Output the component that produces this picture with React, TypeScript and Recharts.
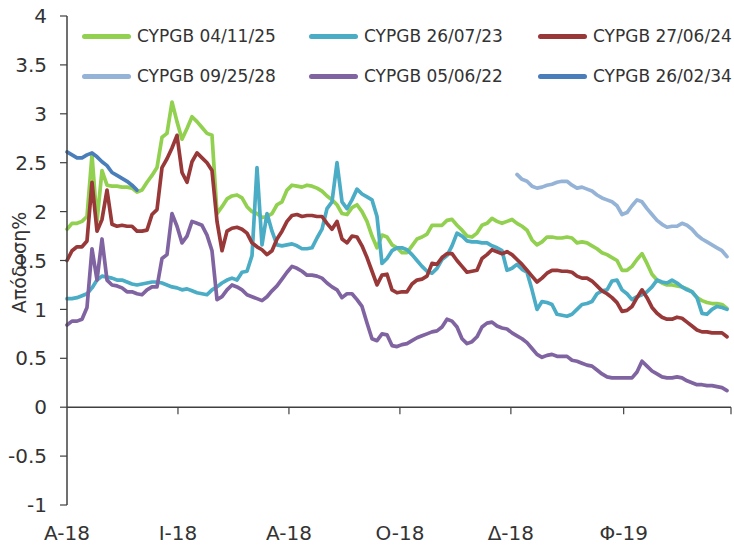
import React from 'react';
import { LineChart, Line, XAxis, YAxis, ReferenceLine, Legend, Label } from 'recharts';

const FONT = '"DejaVu Sans", Verdana, sans-serif';
const STEP_DAYS = (365 * 5) / 664; // one sample every ~2.75 days (Apr-18 .. Apr-19)
const N_SAMPLES = 133;

const xTickDays = [0, 61, 122, 183, 244, 306, 365];
const xTickLabels = ['A-18', 'I-18', 'A-18', 'O-18', 'Δ-18', 'Φ-19', ''];
const yTicks = [-1, -0.5, 0, 0.5, 1, 1.5, 2, 2.5, 3, 3.5, 4];

const seriesNames = ['CYPGB 04/11/25', 'CYPGB 26/07/23', 'CYPGB 27/06/24', 'CYPGB 09/25/28', 'CYPGB 05/06/22', 'CYPGB 26/02/34'];
const seriesColors = ['#92D050', '#4BACC6', '#993838', '#95B3D7', '#8064A2', '#4A7EBB'];
const seriesStart = [0, 0, 0, 90, 0, 0];

const bond041125 = [
  1.82, 1.88, 1.88, 1.9, 1.95, 2.58, 1.9, 2.42, 2.27, 2.26,
  2.26, 2.25, 2.25, 2.24, 2.2, 2.22, 2.3, 2.37, 2.45, 2.76,
  2.8, 3.12, 2.92, 2.74, 2.85, 2.97, 2.92, 2.86, 2.8, 2.78,
  1.98, 2.05, 2.13, 2.16,
  2.17, 2.14, 2.05, 2.0, 1.98, 1.94, 1.95, 1.98, 2.07, 2.1,
  2.22, 2.27, 2.26, 2.25, 2.27, 2.26, 2.24, 2.21, 2.16, 2.12,
  2.07, 1.98, 1.97, 2.04, 2.07, 2.0, 1.9, 1.75, 1.63, 1.76,
  1.74, 1.66, 1.63,
  1.58, 1.58, 1.65, 1.72, 1.74, 1.77, 1.86, 1.86, 1.86, 1.91,
  1.92, 1.86, 1.81, 1.75, 1.74, 1.78, 1.86, 1.88, 1.93, 1.9,
  1.88, 1.9, 1.92, 1.88, 1.85, 1.81, 1.71, 1.66, 1.69, 1.74,
  1.74, 1.73, 1.73,
  1.74, 1.73, 1.68, 1.69, 1.68, 1.65, 1.62, 1.58, 1.56, 1.53,
  1.5, 1.4, 1.4, 1.44, 1.51, 1.57, 1.47, 1.36, 1.3, 1.27,
  1.25, 1.25, 1.24, 1.23, 1.21, 1.18, 1.12, 1.09, 1.07, 1.06,
  1.06, 1.05, 1.01,
];

const bond260723 = [
  1.11, 1.11, 1.12, 1.14, 1.16, 1.22, 1.3, 1.34, 1.33, 1.32,
  1.3, 1.3, 1.28, 1.26, 1.25, 1.26, 1.27, 1.28, 1.28, 1.27,
  1.25, 1.23, 1.22, 1.2, 1.21, 1.19, 1.17, 1.16, 1.15, 1.2,
  1.23, 1.27, 1.3, 1.32,
  1.3, 1.38, 1.39, 1.55, 2.45, 1.66, 1.98, 1.8, 1.66, 1.65,
  1.66, 1.67, 1.65, 1.62, 1.62, 1.63, 1.73, 1.82, 2.03, 2.1,
  2.5, 2.1, 2.03, 2.12, 2.23, 2.18, 2.15, 2.12, 1.95, 1.47,
  1.52, 1.6, 1.63,
  1.63, 1.61, 1.56, 1.5, 1.44, 1.39, 1.37, 1.42, 1.51, 1.55,
  1.65, 1.78, 1.75, 1.7, 1.69, 1.69, 1.68, 1.68, 1.65, 1.63,
  1.6, 1.4, 1.42, 1.46, 1.41, 1.38, 1.2, 1.0, 1.08, 1.07,
  1.05, 0.95, 0.94,
  0.93, 0.95, 1.0, 1.05, 1.06, 1.08, 1.16, 1.19, 1.2, 1.29,
  1.3, 1.2, 1.16, 1.1, 1.13, 1.15, 1.18, 1.23, 1.3, 1.28,
  1.27, 1.3, 1.27, 1.23, 1.2, 1.18, 1.12, 0.96, 0.95, 1.0,
  1.03, 1.02, 1.0,
];

const bond270624 = [
  1.5, 1.6, 1.64, 1.64, 1.7, 2.3, 1.8, 1.92, 2.22, 1.87,
  1.85, 1.86, 1.85, 1.85, 1.8, 1.8, 1.81, 1.97, 2.02, 2.45,
  2.54, 2.65, 2.78, 2.4, 2.3, 2.51, 2.6, 2.55, 2.5, 2.42,
  1.9, 1.6, 1.8, 1.83,
  1.84, 1.82, 1.78, 1.68, 1.64, 1.61, 1.56, 1.6, 1.72, 1.8,
  1.9, 1.96, 1.97, 1.95, 1.96, 1.96, 1.95, 1.95, 1.88, 1.82,
  1.9, 1.72, 1.68, 1.75, 1.74, 1.65, 1.53, 1.39, 1.25, 1.35,
  1.36, 1.2, 1.17,
  1.18, 1.18, 1.26, 1.3, 1.31, 1.34, 1.47, 1.46, 1.53, 1.57,
  1.57, 1.5, 1.44, 1.38, 1.39, 1.4, 1.52, 1.56, 1.61, 1.59,
  1.57, 1.59, 1.56, 1.51, 1.46, 1.4, 1.34, 1.28, 1.32, 1.37,
  1.4, 1.4, 1.39,
  1.39, 1.38, 1.34, 1.32, 1.32, 1.29, 1.24, 1.19, 1.16, 1.12,
  1.07, 0.98, 0.99, 1.03, 1.12, 1.2, 1.12, 1.02, 0.96, 0.92,
  0.9, 0.9, 0.92, 0.91, 0.87, 0.83, 0.79, 0.77, 0.77, 0.76,
  0.76, 0.76, 0.72,
];

// starts at sample 90 (first quote in late Nov-18)
const bond092528 = [
  2.38, 2.33, 2.31, 2.26, 2.24, 2.25, 2.27, 2.28, 2.3, 2.31,
  2.31, 2.27, 2.24, 2.25, 2.23, 2.21, 2.17, 2.14, 2.12, 2.1,
  2.06, 1.97, 1.99, 2.06, 2.12, 2.1, 2.03, 1.97, 1.91, 1.87,
  1.84, 1.85, 1.85, 1.88, 1.86, 1.82, 1.76, 1.72, 1.69, 1.66,
  1.63, 1.6, 1.54,
];

const bond050622 = [
  0.84, 0.88, 0.88, 0.9, 1.02, 1.62, 1.3, 1.72, 1.3, 1.25,
  1.24, 1.22, 1.18, 1.18, 1.16, 1.15, 1.2, 1.23, 1.23, 1.52,
  1.56, 1.98, 1.85, 1.68, 1.75, 1.9, 1.88, 1.86, 1.76, 1.6,
  1.1, 1.13, 1.2, 1.25,
  1.23, 1.2, 1.15, 1.13, 1.11, 1.09, 1.13, 1.19, 1.24, 1.31,
  1.38, 1.44, 1.42, 1.39, 1.35, 1.35, 1.34, 1.32, 1.27, 1.23,
  1.2, 1.12, 1.16, 1.16, 1.1, 1.03, 0.86, 0.7, 0.68, 0.75,
  0.74, 0.63, 0.62,
  0.64, 0.65, 0.68, 0.71, 0.73, 0.75, 0.77, 0.78, 0.82, 0.9,
  0.88, 0.82, 0.7, 0.65, 0.67, 0.72, 0.82, 0.86, 0.87, 0.83,
  0.81, 0.8, 0.76, 0.73, 0.7, 0.66, 0.6, 0.54, 0.51, 0.53,
  0.54, 0.52, 0.52,
  0.52, 0.48, 0.47, 0.45, 0.43, 0.42, 0.38, 0.34, 0.31, 0.3,
  0.3, 0.3, 0.3, 0.3, 0.36, 0.47, 0.42, 0.37, 0.34, 0.31,
  0.3, 0.3, 0.31, 0.3, 0.27, 0.25, 0.23, 0.23, 0.22, 0.22,
  0.21, 0.2, 0.17,
];

// only quoted during the first weeks
const bond260234 = [
  2.61, 2.58, 2.55, 2.55, 2.58, 2.6, 2.56, 2.51, 2.47, 2.4,
  2.37, 2.34, 2.31, 2.27, 2.22,
];

const seriesValues = [bond041125, bond260723, bond270624, bond092528, bond050622, bond260234];
const seriesKeys = ['s041125', 's260723', 's270624', 's092528', 's050622', 's260234'];

const data = Array.from({ length: N_SAMPLES }, (_, k) => {
  const row: Record<string, number | null> = { day: k * STEP_DAYS };
  seriesKeys.forEach((key, s) => {
    const i = k - seriesStart[s];
    const vals = seriesValues[s];
    row[key] = i >= 0 && i < vals.length ? vals[i] : null;
  });
  return row;
});

const legendLineX = [82, 309, 538];
const legendRowY = [36, 76];

const renderLegend = () => (
  <div style={{ position: 'relative', width: 734, height: 100 }}>
    {seriesNames.map((name, i) => {
      const col = i % 3;
      const row = Math.floor(i / 3);
      return (
        <div
          key={name}
          style={{
            position: 'absolute',
            left: legendLineX[col],
            top: legendRowY[row] - 12,
            height: 24,
            display: 'flex',
            alignItems: 'center',
            whiteSpace: 'nowrap',
          }}
        >
          <span
            style={{
              display: 'inline-block',
              width: 49,
              height: 5,
              borderRadius: 2.5,
              background: seriesColors[i],
              marginRight: 6,
            }}
          />
          <span style={{ fontFamily: FONT, fontSize: 17, color: '#333', lineHeight: '24px' }}>{name}</span>
        </div>
      );
    })}
  </div>
);

const YTitle = (props: any) => {
  const vb = props.viewBox || { x: 0, y: 16, width: 67, height: 489 };
  const cx = vb.x + 26;
  const cy = vb.y + vb.height / 2 + 2;
  return (
    <text
      transform={`translate(${cx}, ${cy}) rotate(-90)`}
      textAnchor="middle"
      fontFamily={FONT}
      fontSize={19}
      fill="#333"
    >
      Απόδοση%
    </text>
  );
};

export default function App() {
  return (
    <div style={{ position: 'absolute', left: 0, top: 0, width: 734, height: 545, background: '#fff' }}>
      <LineChart
        width={734}
        height={545}
        data={data}
        margin={{ top: 16, right: 3, bottom: 0, left: 0 }}
        style={{ fontFamily: FONT }}
      >
        <XAxis
          dataKey="day"
          type="number"
          domain={[0, 365]}
          ticks={xTickDays}
          interval={0}
          tickFormatter={(v: number) => xTickLabels[xTickDays.indexOf(v)] ?? ''}
          axisLine={false}
          tickLine={false}
          tickSize={0}
          tickMargin={21}
          height={40}
          tick={{ fill: '#333', fontSize: 20, fontFamily: FONT }}
        />
        <YAxis
          type="number"
          domain={[-1, 4]}
          ticks={yTicks}
          interval={0}
          width={67}
          tickSize={7}
          tickMargin={13}
          axisLine={{ stroke: '#404040', strokeWidth: 1.5 }}
          tickLine={{ stroke: '#404040', strokeWidth: 1.2 }}
          tick={{ fill: '#333', fontSize: 20, fontFamily: FONT }}
        >
          <Label content={<YTitle />} />
        </YAxis>
        <ReferenceLine y={0} stroke="#404040" strokeWidth={1.5} />
        {xTickDays.slice(1).map((d) => (
          <ReferenceLine
            key={`t${d}`}
            segment={[
              { x: d, y: 0 },
              { x: d, y: -0.072 },
            ]}
            stroke="#404040"
            strokeWidth={1.2}
          />
        ))}
        {seriesKeys.map((key, s) => (
          <Line
            key={key}
            dataKey={key}
            name={seriesNames[s]}
            stroke={seriesColors[s]}
            strokeWidth={3.7}
            strokeLinejoin="round"
            strokeLinecap="round"
            dot={false}
            activeDot={false}
            isAnimationActive={false}
            connectNulls={false}
          />
        ))}
        <Legend
          layout="vertical"
          align="center"
          verticalAlign="middle"
          wrapperStyle={{ position: 'absolute', top: 0, left: 0, width: 734, height: 100 }}
          content={renderLegend}
        />
      </LineChart>
    </div>
  );
}
